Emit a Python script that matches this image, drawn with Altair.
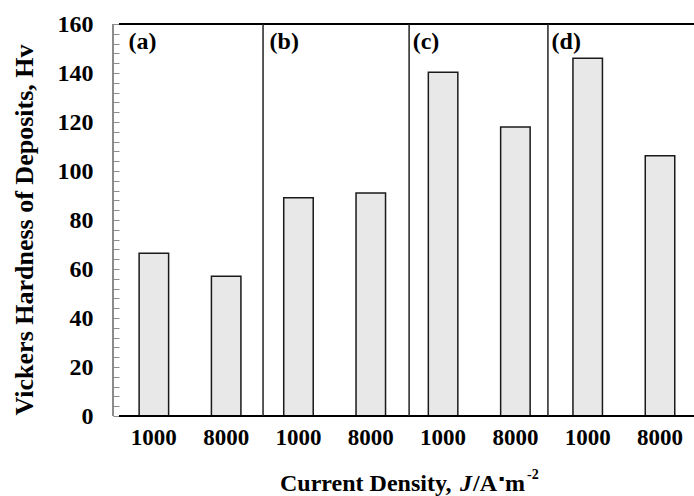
import altair as alt
import pandas as pd

# ---- data ----
panel_labels = ["(a)", "(b)", "(c)", "(d)"]
panel_label_pos = [-0.35, 1.60, 3.58, 5.50]
current_density = ["1000", "8000", "1000", "8000", "1000", "8000", "1000", "8000"]
hardness = [66.4, 57.0, 89.1, 91.0, 140.3, 118.0, 146.0, 106.2]
divider_pos = [1.51, 3.53, 5.45]
y_tick_values = list(range(0, 161, 4))

bars_df = pd.DataFrame({
    "pos": list(range(len(hardness))),
    "density": current_density,
    "hardness": hardness,
})
panel_df = pd.DataFrame({"label": panel_labels, "pos": panel_label_pos})
div_df = pd.DataFrame({"pos": divider_pos})

FONT = "Liberation Serif"
W, H = 581, 392

xscale = alt.Scale(domain=[-0.496, 7.401], nice=False, zero=False)
yscale = alt.Scale(domain=[0, 160], nice=False)

bars = alt.Chart(bars_df).mark_bar(
    size=29.5, fill="#e8e8e8", stroke="#1a1a1a", strokeWidth=1.5
).encode(
    x=alt.X("pos:Q", scale=xscale, axis=None),
    y=alt.Y(
        "hardness:Q",
        scale=yscale,
        axis=alt.Axis(
            values=y_tick_values,
            labelExpr="datum.value % 20 === 0 ? datum.label : ''",
            offset=-6,
            domain=False,
            grid=False,
            tickSize=6,
            tickColor="#8c8c8c",
            tickWidth=1,
            labelFont=FONT,
            labelFontWeight="bold",
            labelFontSize=24,
            labelColor="black",
            labelPadding=20,
            labelOverlap=False,
            title=None,
        ),
    ),
)

y_domain = alt.Chart(bars_df).mark_rule(color="#8c8c8c", strokeWidth=2).encode(
    x=alt.value(0), y=alt.value(0), y2=alt.value(H)
)

frame_top = alt.Chart(bars_df).mark_rule(color="black", strokeWidth=1.5).encode(
    x=alt.value(6), x2=alt.value(W), y=alt.value(0)
)
frame_bottom = alt.Chart(bars_df).mark_rule(color="black", strokeWidth=1.5).encode(
    x=alt.value(6), x2=alt.value(W), y=alt.value(H)
)

dividers = alt.Chart(div_df).mark_rule(color="#222222", strokeWidth=1.5).encode(
    x=alt.X("pos:Q", scale=xscale, axis=None), y=alt.value(0), y2=alt.value(H)
)

panel_text = alt.Chart(panel_df).mark_text(
    font=FONT, fontWeight="bold", fontSize=24, align="left", baseline="alphabetic", color="black"
).encode(
    x=alt.X("pos:Q", scale=xscale, axis=None), y=alt.value(25), text="label:N"
)

x_labels = alt.Chart(bars_df).mark_text(
    font=FONT, fontWeight="bold", fontSize=23, align="center", baseline="alphabetic", color="black"
).encode(
    x=alt.X("pos:Q", scale=xscale, axis=None), y=alt.value(421), text="density:N"
)

y_title = alt.Chart(pd.DataFrame({"t": ["Vickers Hardness of Deposits, Hv"]})).mark_text(
    font=FONT, fontWeight="bold", fontSize=26, angle=270, align="center",
    baseline="alphabetic", color="black"
).encode(x=alt.value(-80), y=alt.value(206), text="t:N")

# x title built from pieces (italic J, superscript -2)
def piece(txt, x, y, size=24, style="normal", font=FONT, baseline="alphabetic", align="left"):
    return alt.Chart(pd.DataFrame({"t": [txt]})).mark_text(
        font=font, fontWeight="bold", fontSize=size, fontStyle=style,
        align=align, baseline=baseline, color="black"
    ).encode(x=alt.value(x), y=alt.value(y), text="t:N")

x_title = alt.layer(
    piece("Current Density,", 167, 467),
    piece("J", 347, 467, style="italic"),
    piece("/A", 360, 467),
    piece("\u25aa", 388.5, 455, size=8, font="DejaVu Sans", baseline="middle", align="center"),
    piece("m", 392, 467),
    piece("-2", 414, 455, size=14),
)

chart = alt.layer(
    bars, y_domain, frame_top, frame_bottom, dividers, panel_text, x_labels, y_title, x_title
).properties(
    width=W, height=H,
    autosize=alt.AutoSizeParams(type="none"),
    padding={"left": 113, "top": 24, "right": 0, "bottom": 80},
).configure_view(stroke=None).configure(background="white")

chart.save("out.html", embed_options={"renderer": "svg", "actions": False})
